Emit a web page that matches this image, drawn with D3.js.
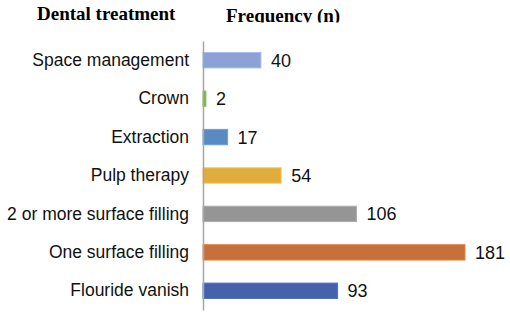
<!DOCTYPE html>
<html>
<head>
<meta charset="utf-8">
<script src="https://cdn.jsdelivr.net/npm/d3@7"></script>
<style>
  body { margin: 0; background: #fff; }
  svg { display: block; }
</style>
</head>
<body>
<div class="chart"></div>
<script>
var treatments = ["Space management", "Crown", "Extraction", "Pulp therapy",
    "2 or more surface filling", "One surface filling", "Flouride vanish"];
var counts = [40, 2, 17, 54, 106, 181, 93];
var barColors = ["#8EA1D5", "#70AD47", "#5A8AC2", "#E0AC3B", "#959595", "#C6703C", "#4462AC"];

var width = 510;
var height = 317;
var left = 203;

var x = d3.scaleLinear()
    .domain([0, 181])
    .range([left, 465]);

var y = d3.scaleBand()
    .domain(treatments)
    .range([41, 310])
    .paddingInner(0.6)
    .paddingOuter(0.3);

var canvas = d3.select(".chart")
    .append("svg")
    .attr("width", width)
    .attr("height", height);

// header clipped at the bottom like the source image
canvas.append("clipPath")
    .attr("id", "headClip")
    .append("rect")
    .attr("x", 0).attr("y", 0)
    .attr("width", width).attr("height", 22.5);

var head = canvas.append("g").attr("clip-path", "url(#headClip)");

head.append("text")
    .attr("x", 37)
    .attr("y", 20)
    .style("font-family", "'Liberation Serif', 'Times New Roman', serif")
    .style("font-weight", "bold")
    .style("font-size", "19px")
    .text("Dental treatment");

head.append("text")
    .attr("x", 226)
    .attr("y", 22)
    .style("font-family", "'Liberation Serif', 'Times New Roman', serif")
    .style("font-weight", "bold")
    .style("font-size", "19px")
    .text("Frequency (n)");

var data = treatments.map(function(t, i) {
    return { name: t, value: counts[i], color: barColors[i] };
});

canvas.selectAll(".bar")
    .data(data)
    .enter().append("rect")
    .attr("class", "bar")
    .attr("x", x(0))
    .attr("y", function(d) { return y(d.name); })
    .attr("width", function(d) { return x(d.value) - x(0); })
    .attr("height", y.bandwidth())
    .attr("fill", function(d) { return d.color; })
    .attr("stroke", function(d) { return d3.color(d.color).brighter(0.4); })
    .attr("stroke-width", 1);

canvas.selectAll(".value")
    .data(data)
    .enter().append("text")
    .attr("class", "value")
    .attr("x", function(d) { return x(d.value) + 10; })
    .attr("y", function(d) { return y(d.name) + y.bandwidth() / 2; })
    .attr("dy", "0.36em")
    .style("font-family", "'Liberation Sans', Arial, sans-serif")
    .style("font-size", "18px")
    .attr("fill", "#111")
    .text(function(d) { return d.value; });

var yAxis = d3.axisLeft(y).tickSize(0).tickPadding(14);

var axisG = canvas.append("g")
    .attr("transform", "translate(" + left + ",0)")
    .call(yAxis);

axisG.select(".domain")
    .attr("stroke", "#A6A6A6")
    .attr("stroke-width", 1.5);

axisG.selectAll("text")
    .style("font-family", "'Liberation Sans', Arial, sans-serif")
    .style("font-size", "17.5px")
    .attr("fill", "#111");
</script>
</body>
</html>
